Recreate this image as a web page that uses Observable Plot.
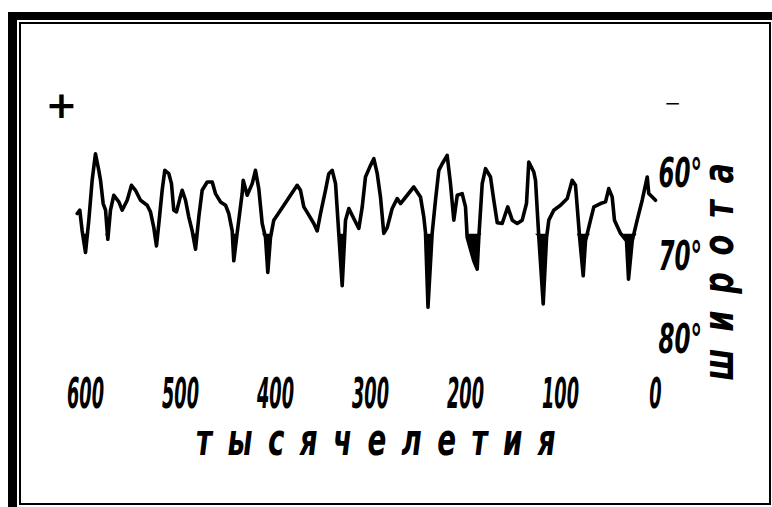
<!DOCTYPE html>
<html><head><meta charset="utf-8">
<script src="https://cdn.jsdelivr.net/npm/d3@7"></script>
<script src="https://cdn.jsdelivr.net/npm/@observablehq/plot@0.6"></script>
<style>
html,body{margin:0;padding:0;background:#fff;}
#wrap{position:relative;width:772px;height:507px;overflow:hidden;background:#fff;}
#wrap svg{position:absolute;left:0;top:0;z-index:1;}
.bar{position:absolute;background:#000;z-index:2;}
</style></head><body>
<div id="wrap">
 <div class="bar" style="left:8px;top:12px;width:764px;height:8px"></div>
 <div class="bar" style="left:8px;top:12px;width:9px;height:495px"></div>
 <div style="position:absolute;z-index:2;left:19px;top:22px;width:748px;height:479px;border:2px solid #000"></div>
</div>
<script>
const kyears = [608.7,606.0,603.5,600.0,596.5,593.0,589.5,586.0,584.2,581.4,
578.9,576.5,573.7,570.2,564.9,561.4,556.1,551.6,547.4,542.1,
535.1,531.6,528.1,525.3,522.8,519.3,516.5,512.3,509.5,507.1,
504.2,500.7,498.2,494.7,491.3,487.7,484.2,480.7,477.2,471.9,
466.6,463.2,457.9,452.6,449.2,445.6,443.9,440.3,435.1,434.0,
429.8,424.5,421.1,417.6,414.0,410.5,408.1,405.3,401.8,394.7,
387.7,377.2,373.7,370.2,364.9,359.7,356.1,352.6,347.4,343.9,
340.3,336.8,333.4,329.8,326.3,322.8,317.6,312.3,308.7,305.3,
300.0,296.5,292.9,289.5,286.0,282.4,277.2,271.9,268.4,261.4,
254.4,247.4,243.9,242.1,239.5,235.1,231.6,228.1,224.5,219.3,
215.8,212.3,208.7,203.5,200.0,198.2,191.3,187.7,186.0,182.4,
178.9,173.7,170.2,166.6,161.4,155.5,150.8,145.6,140.3,135.8,
133.4,128.1,126.3,122.8,118.2,114.7,112.3,107.1,100.0,92.9,
87.7,84.2,82.4,79.7,76.1,73.7,68.4,64.9,57.9,52.6,
49.2,45.6,43.2,36.8,30.5,28.4,24.5,19.3,14.0,8.7,7.1,0.0];
const latitude = [64.7,64.3,66.8,69.4,65.5,60.7,57.5,59.5,60.7,63.5,
64.3,67.8,64.3,62.5,63.3,64.3,63.1,61.3,61.9,63.1,
63.7,64.5,66.4,68.6,65.9,61.9,59.5,59.9,61.1,64.3,
64.5,62.9,61.9,63.1,65.1,66.8,69.0,65.1,61.9,60.9,
60.9,62.3,63.3,63.7,64.7,66.8,70.4,67.0,62.3,60.7,
62.5,61.1,59.5,61.7,65.9,67.6,71.8,67.6,65.5,64.3,
63.1,61.3,61.9,63.9,64.9,65.9,66.8,64.7,61.9,59.9,
59.5,61.1,67.1,73.4,65.5,64.1,65.3,66.5,63.9,60.3,
58.9,58.1,59.9,62.7,67.1,66.4,64.1,62.9,63.5,62.5,
61.5,62.7,65.1,67.0,76.0,67.1,63.1,59.5,58.7,57.7,
61.1,65.5,62.5,62.3,63.9,67.6,70.4,71.4,67.6,61.1,
59.3,60.3,63.1,65.8,65.9,63.9,65.5,65.9,65.5,63.5,
58.5,59.7,60.7,67.6,75.6,67.6,65.5,64.3,63.7,62.9,
60.7,61.3,63.9,67.8,72.2,68.0,65.5,63.9,63.5,63.3,
61.7,62.7,65.5,67.1,68.0,72.6,68.0,65.5,63.1,60.3,62.3,63.1];
const xTicks = [600,500,400,300,200,100,0];
const yTicks = [60,70,80];
const xLabel = "тысячелетия";
const yLabel = "широта";
const plusSign = "+";
const minusSign = "−";
const polarLat = 67.2;

const data = kyears.map((k,i)=>({ky:k, lat:latitude[i]}));
const font = "'Liberation Sans Narrow','DejaVu Sans Condensed','Liberation Sans',sans-serif";

const plot = Plot.plot({
  width:772, height:507, marginTop:0, marginLeft:0, marginRight:116, marginBottom:129,
  style:{background:"transparent", fontFamily:font, color:"#000", overflow:"visible"},
  x:{domain:[600,0], range:[85,655]},
  y:{domain:[60,80], range:[174,340]},
  marks:[
    Plot.areaY(data,{x:"ky", y1:()=>polarLat, y2:d=>Math.max(d.lat,polarLat), fill:"#000"}),
    Plot.line(data,{x:"ky", y:"lat", stroke:"#000", strokeWidth:3.6, strokeLinejoin:"round", strokeLinecap:"round"}),
    Plot.axisX(xTicks,{anchor:"bottom", tickSize:0, tickPadding:0, fontSize:42, fontWeight:"bold", fontStyle:"italic", label:null, tickFormat:d=>String(d)}),
    Plot.axisY(yTicks,{anchor:"right", tickSize:0, tickPadding:2, fontSize:40, fontWeight:"bold", fontStyle:"italic", label:null, tickFormat:d=>d+"°"}),
    Plot.text([xLabel],{x:()=>(xTicks[0]+xTicks[xTicks.length-1])/2, frameAnchor:"bottom", textAnchor:"middle", lineAnchor:"middle", dy:62, dx:13, fontSize:44, fontWeight:"bold", fontStyle:"italic"}),
    Plot.text([yLabel],{frameAnchor:"right", textAnchor:"middle", lineAnchor:"middle", y:()=>(yTicks[0]+yTicks[yTicks.length-1])/2, dx:63, dy:6, rotate:-90, fontSize:42, fontWeight:"bold", fontStyle:"italic"}),
    Plot.text([plusSign],{x:()=>xTicks[0], y:()=>yTicks[0], dx:-24, dy:-69, fontSize:38, fontWeight:"bold", fontFamily:"DejaVu Sans"}),
    Plot.text([minusSign],{x:()=>xTicks[xTicks.length-1], y:()=>yTicks[0], dx:17, dy:-71, fontSize:20, fontFamily:"DejaVu Sans"})
  ]
});
document.getElementById("wrap").prepend(plot);

const svg = d3.select(plot);
const isNum = v => v != null && /^-?[\d.]+$/.test(v);
function squeeze(filterFn, sx) {
  svg.selectAll("text").filter(filterFn).each(function(){
    const t = this.getAttribute("transform") || "";
    let x = this.getAttribute("x"), y = this.getAttribute("y");
    let extra = "";
    if (isNum(x) || isNum(y)) {
      extra = ` translate(${isNum(x)?x:0},${isNum(y)?y:0})`;
      if (isNum(x)) this.removeAttribute("x");
      if (isNum(y)) this.removeAttribute("y");
    }
    this.setAttribute("transform", `${t}${extra} scale(${sx},1)`);
  });
}
const xTickStr = xTicks.map(String);
squeeze(function(){ return xTickStr.includes(this.textContent); }, 0.47);
squeeze(function(){ return this.textContent.endsWith("°"); }, 0.64);
squeeze(function(){ return this.textContent === xLabel; }, 0.7);
squeeze(function(){ return this.textContent === yLabel; }, 0.8);
svg.selectAll("text").filter(function(){ return this.textContent === xLabel; }).style("letter-spacing","22px");
svg.selectAll("text").filter(function(){ return this.textContent === yLabel; }).style("letter-spacing","21px");
</script>
</body></html>
